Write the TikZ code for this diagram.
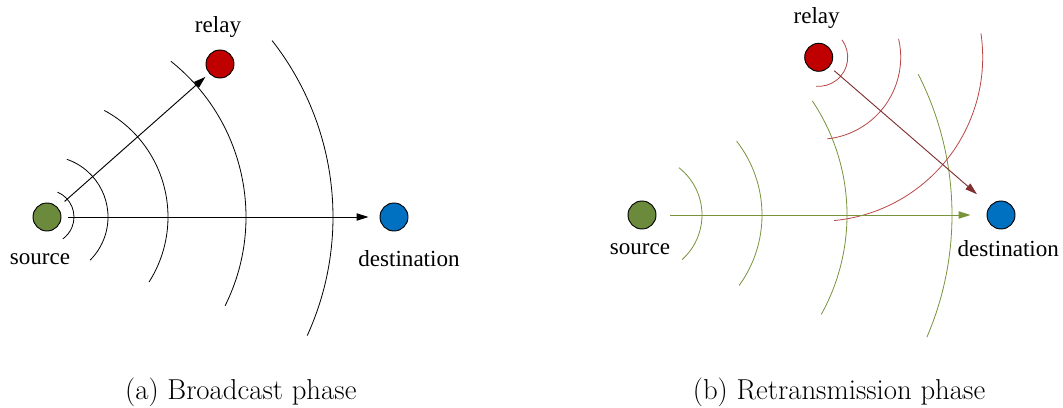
\documentclass[tikz,border=0pt]{standalone}
\usepackage{fontspec}
\newfontfamily\labfont{Liberation Serif}
\usetikzlibrary{arrows.meta}
\definecolor{srcgreen}{HTML}{6B8A3B}
\definecolor{relred}{HTML}{C00000}
\definecolor{dstblue}{HTML}{0070C0}
\definecolor{wavegreen}{HTML}{77933C}
\definecolor{wavered}{HTML}{B84544}
\definecolor{arrred}{HTML}{803030}
\tikzset{
  terminal/.style={circle,draw=black,line width=0.7pt,minimum size=21pt,inner sep=0pt},
  nodelabel/.style={font=\labfont\fontsize{17.3}{20}\selectfont,inner sep=0pt},
  captext/.style={font=\fontsize{21.6}{26}\selectfont,inner sep=0pt},
  waveline/.style={line width=0.6pt},
  linkarrow/.style={line width=0.7pt,-{Triangle[length=9pt,width=5.5pt]}},
}
\begin{document}
\begin{tikzpicture}[x=0.75pt,y=0.75pt]
\useasboundingbox (0,0) rectangle (1063,407);
% ---------- (a) ----------
\node[terminal,fill=srcgreen] (s1) at (47,190) {};
\node[terminal,fill=relred] (r1) at (220,343) {};
\node[terminal,fill=dstblue] (d1) at (394,190) {};
\node[nodelabel] (s1l) at (40,148) {source};
\node[nodelabel] (r1l) at (218,380) {relay};
\node[nodelabel] (d1l) at (409,148) {destination};
\foreach \r/\a/\b in {27/67/-54, 61/71/-45, 121/61.7/-32.5, 199/51.5/-26.5, 286/38.1/-24.5}{
  \draw[waveline,black] ([shift={(\a:\r)}]s1.center) arc[start angle=\a,end angle=\b,radius=\r*0.75pt];
}
\draw[linkarrow,black,shorten <=6.75pt,shorten >=3.75pt] (s1) -- (r1);
\draw[linkarrow,black,shorten <=5.25pt,shorten >=8.25pt] (s1) -- (d1);
% ---------- (b) ----------
\node[terminal,fill=srcgreen] (s2) at (642,192) {};
\node[terminal,fill=relred] (r2) at (818.7,349.7) {};
\node[terminal,fill=dstblue] (d2) at (1001,192) {};
\node[nodelabel] (s2l) at (640,157.7) {source};
\node[nodelabel] (r2l) at (816.7,388.7) {relay};
\node[nodelabel] (d2l) at (1008.3,158.7) {destination};
\foreach \r/\a/\b in {60/52/-48, 120/38/-36, 205/33.8/-29, 310/27/-23.2}{
  \draw[waveline,wavegreen] ([shift={(\a:\r)}]s2.center) arc[start angle=\a,end angle=\b,radius=\r*0.75pt];
}
\foreach \r/\a/\b in {29/37/-95, 82/13/-84, 164/8.4/-84.6}{
  \draw[waveline,wavered] ([shift={(\a:\r)}]r2.center) arc[start angle=\a,end angle=\b,radius=\r*0.75pt];
}
\draw[linkarrow,wavegreen,shorten <=10.5pt,shorten >=12pt] (s2) -- (d2);
\draw[linkarrow,arrred,shorten <=4.5pt,shorten >=13pt] (r2) -- (d2);
% ---------- captions ----------
\node[captext] (ca) at (240.8,14.5) {(a) Broadcast phase};
\node[captext] (cb) at (839,14.5) {(b) Retransmission phase};
\end{tikzpicture}
\end{document}
